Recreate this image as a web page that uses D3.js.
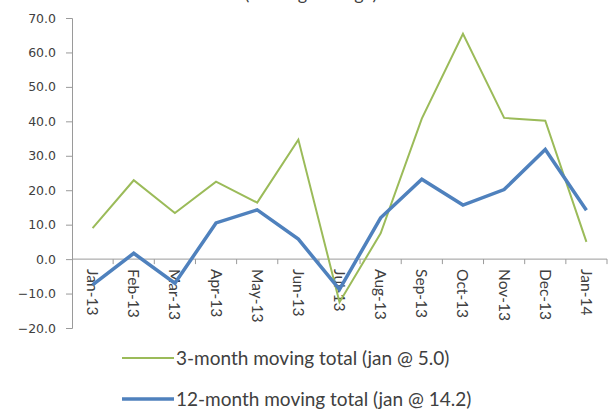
<!DOCTYPE html>
<html>
<head>
<meta charset="utf-8">
<script src="https://cdn.jsdelivr.net/npm/d3@7/dist/d3.min.js"></script>
<style>
  html, body { margin: 0; padding: 0; background: #fff; }
  svg { display: block; }
</style>
</head>
<body>
<svg id="chart" width="610" height="411"></svg>
<script>
// Monthly categories and the two moving-total series
const months = ["Jan-13","Feb-13","Mar-13","Apr-13","May-13","Jun-13","Jul-13",
                "Aug-13","Sep-13","Oct-13","Nov-13","Dec-13","Jan-14"];
const threeMonth  = [9.0, 22.9, 13.4, 22.5, 16.4, 34.7, -12.5, 7.5, 40.8, 65.4, 41.0, 40.2, 5.0];
const twelveMonth = [-7.5, 1.7, -7.0, 10.5, 14.3, 5.8, -8.8, 12.0, 23.2, 15.7, 20.2, 31.8, 14.2];
const yTicks = [-20, -10, 0, 10, 20, 30, 40, 50, 60, 70];
const seriesNames = ["3-month moving total (jan @ 5.0)", "12-month moving total (jan @ 14.2)"];

const svg = d3.select("#chart");
const plotLeft = 72, plotRight = 607, plotTop = 18, plotBottom = 328;

const x = d3.scaleBand().domain(months).range([plotLeft, plotRight]);
const y = d3.scaleLinear().domain([-20, 70]).range([plotBottom, plotTop]);
const cx = d => x(d) + x.bandwidth() / 2;

const labelFont = "Lato, 'Open Sans', sans-serif";

// Chart title (runs off the top edge)
svg.append("text")
  .attr("x", 311).attr("y", 0)
  .attr("text-anchor", "middle")
  .attr("font-family", labelFont).attr("font-size", 18)
  .attr("fill", "#404040")
  .text("(moving average)");

// Y axis
const yAxis = d3.axisLeft(y).tickValues(yTicks).tickSize(6).tickFormat(d3.format(".1f"));
const gy = svg.append("g").attr("transform", `translate(${plotLeft},0)`).call(yAxis);
gy.select(".domain").attr("stroke", "#9a9a9a");
gy.selectAll(".tick line").attr("stroke", "#9a9a9a");
gy.selectAll(".tick text")
  .attr("x", -16)
  .attr("font-family", "'DejaVu Sans', Verdana, sans-serif")
  .attr("font-size", 12.5)
  .attr("fill", "#404040");

// X axis on the zero line, ticks between categories
const gx = svg.append("g").attr("transform", `translate(0,${y(0)})`);
gx.append("line")
  .attr("x1", plotLeft).attr("x2", plotRight)
  .attr("stroke", "#9a9a9a");
gx.selectAll("line.tk")
  .data(months)
  .join("line")
  .attr("class", "tk")
  .attr("x1", d => x(d) + x.step())
  .attr("x2", d => x(d) + x.step())
  .attr("y1", 0).attr("y2", 5)
  .attr("stroke", "#9a9a9a");
gx.selectAll("text")
  .data(months)
  .join("text")
  .attr("transform", d => `translate(${cx(d) - 5.5},10) rotate(90)`)
  .attr("font-family", labelFont)
  .attr("font-size", 15.5)
  .attr("fill", "#404040")
  .text(d => d);

// Series lines
const line = d3.line().x((d, i) => cx(months[i])).y(d => y(d));
svg.append("path")
  .datum(threeMonth)
  .attr("d", line)
  .attr("fill", "none")
  .attr("stroke", "#9bbb59")
  .attr("stroke-width", 2)
  .attr("stroke-linejoin", "miter");
svg.append("path")
  .datum(twelveMonth)
  .attr("d", line)
  .attr("fill", "none")
  .attr("stroke", "#4f81bd")
  .attr("stroke-width", 3.5)
  .attr("stroke-linejoin", "miter");

// Legend
const legend = svg.append("g");
const legendRows = [
  { name: seriesNames[0], color: "#9bbb59", w: 2,   yy: 358 },
  { name: seriesNames[1], color: "#4f81bd", w: 3.5, yy: 399 }
];
legendRows.forEach(r => {
  legend.append("line")
    .attr("x1", 122).attr("x2", 174)
    .attr("y1", r.yy).attr("y2", r.yy)
    .attr("stroke", r.color).attr("stroke-width", r.w);
  legend.append("text")
    .attr("x", 176).attr("y", r.yy)
    .attr("dy", "0.35em")
    .attr("font-family", labelFont)
    .attr("font-size", 19)
    .attr("fill", "#404040")
    .text(r.name);
});
</script>
</body>
</html>
